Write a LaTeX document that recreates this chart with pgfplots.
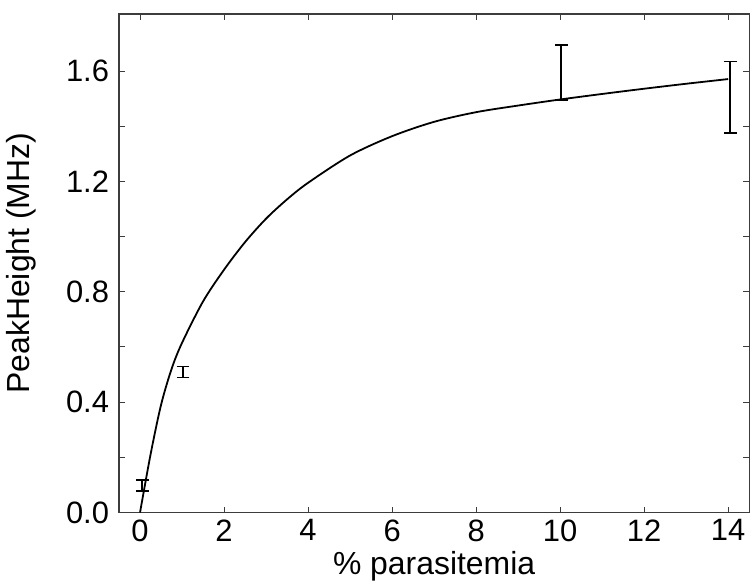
\documentclass[border=0pt]{standalone}
\usepackage{pgfplots}
\pgfplotsset{compat=1.18}
\usepackage{fontspec}
\setmainfont{Liberation Sans}
\definecolor{axisgray}{RGB}{60,60,60}

\begin{document}
\begin{tikzpicture}
\begin{axis}[
    scale only axis,
    width=316pt, height=250pt,
    xmin=-0.5, xmax=14.5,
    ymin=0, ymax=1.807,
    xtick={0,2,...,14},
    ytick={0,0.4,...,1.6},
    minor ytick={0.2,0.6,1.0,1.4},
    yticklabel style={xshift=-1.5pt, /pgf/number format/.cd, fixed, fixed zerofill, precision=1},
    /pgf/number format/assume math mode=true,
    tick align=inside,
    major tick length=3pt, minor tick length=3pt,
    tick style={axisgray, line width=0.5pt},
    axis line style={axisgray, line width=0.6pt},
    tick label style={font=\fontsize{15.5}{18}\selectfont},
    label style={font=\fontsize{16}{19}\selectfont},
    xlabel={\% parasitemia},
    ylabel={PeakHeight (MHz)},
    xlabel style={yshift=2pt},
    ylabel style={yshift=8pt},
]
% fitted curve
\addplot[black, line width=0.9pt, smooth, mark=none] coordinates {
    (0,0) (0.25,0.21) (0.5,0.39) (0.75,0.52) (1.0,0.615) (1.5,0.765)
    (2.0,0.88) (2.5,0.98) (3.0,1.065) (3.5,1.135) (4.0,1.195) (5.0,1.294)
    (6.0,1.364) (7.0,1.416) (8.0,1.451) (9.0,1.475) (10.0,1.497)
    (11.0,1.517) (12.0,1.536) (13.0,1.554) (14.0,1.571)
};
% measured points, error bars only
\addplot[draw=none, mark=none,
    error bars/.cd, y dir=both, y explicit,
    error bar style={draw=black, line width=0.9pt},
    error mark options={draw=black, rotate=90, mark size=3.2pt, line width=0.9pt}]
    table[x=x, y=y, y error=e] {
x y e
0.05 0.097 0.02
1.02 0.509 0.02
10.03 1.595 0.10
14.05 1.505 0.13
};
\end{axis}
\path (current axis.north west) ++(0,7pt) -- ++(0,0);
\end{tikzpicture}
\end{document}
